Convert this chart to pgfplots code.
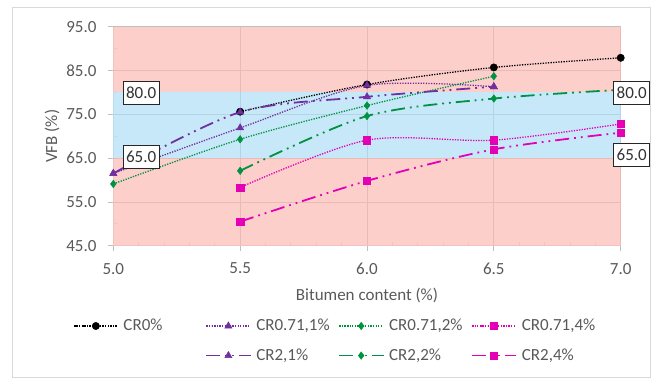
\documentclass[border=0pt]{standalone}
\usepackage{fontspec}
\setmainfont{Carlito}
\usepackage{pgfplots}
\pgfplotsset{compat=1.18}
\definecolor{pinkF}{RGB}{252,185,180}
\definecolor{blueF}{RGB}{174,222,245}
\definecolor{gridC}{RGB}{191,191,191}
\definecolor{txtC}{RGB}{89,89,89}
\definecolor{purp}{RGB}{112,48,160}
\definecolor{grn}{RGB}{0,145,65}
\definecolor{mag}{RGB}{228,0,180}
\definecolor{frameC}{RGB}{217,217,217}
\tikzset{
  dotS/.style={line width=1.3pt, dash pattern=on 1.3pt off 1.3pt},
  ddS/.style={line width=1.8pt, dash pattern=on 14pt off 5pt on 1.8pt off 5pt on 1.8pt off 5pt},
  lbl/.style={draw=black!85, fill=white, line width=0.8pt, inner xsep=3pt, inner ysep=0pt, minimum height=23pt, text=black!80, font=\fontsize{17}{20}\selectfont}
}
\begin{document}
\begin{tikzpicture}[font=\fontsize{17}{20}\selectfont]
\begin{axis}[
  at={(0,0)}, anchor=south west,
  scale only axis, width=507.4pt, height=219pt,
  xmin=5, xmax=7, ymin=45, ymax=95,
  xtick={5,5.5,6,6.5,7}, ytick={45,55,65,75,85,95},
  minor x tick num=4, minor y tick num=1,
  axis lines*=left,
  axis line style={draw=frameC, line width=0.8pt},
  tick align=outside,
  major tick length=5pt, minor tick length=4pt,
  major tick style={draw=gridC, line width=0.8pt},
  minor x tick style={draw=frameC, line width=0.8pt, yshift=4pt},
  minor y tick style={draw=frameC, line width=0.8pt, xshift=4pt},
  grid=major, major grid style={draw=gridC, line width=0.8pt},
  minor grid style={draw=none},
  clip=false,
  /pgf/number format/fixed, /pgf/number format/fixed zerofill,
  /pgf/number format/precision=1, /pgf/number format/assume math mode=true,
  ticklabel style={font=\fontsize{17}{20}\selectfont, text=txtC, inner sep=0pt},
  yticklabel style={anchor=east, xshift=-11.6pt},
  xticklabel style={anchor=north, yshift=-12.1pt},
  xlabel={Bitumen content (\%)}, ylabel={VFB (\%)},
  xlabel style={at={(axis description cs:0.5,-0.225)}, anchor=center, text=txtC},
  ylabel style={at={(axis description cs:-0.1208,0.5)}, anchor=center, text=txtC},
  legend columns=4,
  legend cell align=left,
  legend style={at={(axis description cs:0,0)}, anchor=north west, xshift=-40.3pt, yshift=-70.3pt,
    draw=none, fill=none, inner sep=0pt, row sep=10pt,
    nodes={inner sep=3pt, text depth=0.2em, text=txtC},
    font=\fontsize{17}{20}\selectfont},
  legend image code/.code={\draw[mark repeat=2,mark phase=2,#1] plot coordinates {(0pt,0pt) (22pt,0pt) (44pt,0pt)};},
]
\addplot[draw=none, fill=pinkF, fill opacity=0.69, forget plot] coordinates {(5,45)(7,45)(7,65)(5,65)} -- cycle;
\addplot[draw=none, fill=blueF, fill opacity=0.69, forget plot] coordinates {(5,65)(7,65)(7,80)(5,80)} -- cycle;
\addplot[draw=none, fill=pinkF, fill opacity=0.69, forget plot] coordinates {(5,80)(7,80)(7,95)(5,95)} -- cycle;

\addplot[black, dotS, smooth, mark=*, mark size=3.7pt, mark options={solid, line width=0.4pt}]
  coordinates {(5.5,75.6) (6.0,81.8) (6.5,85.7) (7.0,87.9)};
\addlegendentry{\hspace{2pt}\makebox[79pt][l]{CR0\%}}
\addplot[purp, dotS, smooth, mark=triangle*, mark size=4.2pt, mark options={solid, line width=0.4pt}]
  coordinates {(5.0,61.5) (5.5,71.9) (6.0,81.6) (6.5,81.3)};
\addlegendentry{\hspace{2pt}\makebox[79pt][l]{CR0.71,1\%}}
\addplot[grn, dotS, smooth, mark=diamond*, mark size=3.8pt, mark options={solid, line width=0.4pt}]
  coordinates {(5.0,59.1) (5.5,69.3) (6.0,77.0) (6.5,83.7)};
\addlegendentry{\hspace{2pt}\makebox[79pt][l]{CR0.71,2\%}}
\addplot[mag, dotS, smooth, mark=square*, mark size=3.6pt, mark options={solid, line width=0.4pt}]
  coordinates {(5.5,58.3) (6.0,69.1) (6.5,69.1) (7.0,72.8)};
\addlegendentry{\hspace{2pt}\makebox[79pt][l]{CR0.71,4\%}}
\addlegendimage{empty legend}
\addlegendentry{}
\addplot[purp, ddS, smooth, mark=triangle*, mark size=4.2pt, mark options={solid, line width=0.4pt}]
  coordinates {(5.0,61.5) (5.5,75.5) (6.0,79.0) (6.5,81.3)};
\addlegendentry{\hspace{2pt}\makebox[79pt][l]{CR2,1\%}}
\addplot[grn, ddS, smooth, mark=diamond*, mark size=3.8pt, mark options={solid, line width=0.4pt}]
  coordinates {(5.5,62.1) (6.0,74.6) (6.5,78.6) (7.0,80.6)};
\addlegendentry{\hspace{2pt}\makebox[79pt][l]{CR2,2\%}}
\addplot[mag, ddS, smooth, mark=square*, mark size=3.6pt, mark options={solid, line width=0.4pt}]
  coordinates {(5.5,50.5) (6.0,59.8) (6.5,67.0) (7.0,70.8)};
\addlegendentry{\hspace{2pt}\makebox[79pt][l]{CR2,4\%}}

\coordinate (L80) at (axis cs:5,80);
\coordinate (L65) at (axis cs:5,65);
\coordinate (R80) at (axis cs:7,80);
\coordinate (R65) at (axis cs:7,65);
\end{axis}
\node[lbl, anchor=west] at ([xshift=9.4pt]L80) {80.0};
\node[lbl, anchor=west] at ([xshift=9.4pt, yshift=1.3pt]L65) {65.0};
\node[lbl, anchor=west] at ([xshift=-7.4pt]R80) {80.0};
\node[lbl, anchor=west] at ([xshift=-7.4pt, yshift=2.8pt]R65) {65.0};
\draw[frameC, line width=1pt] (-100.3pt,-131.3pt) rectangle (536.7pt,237.7pt);
\pgfresetboundingbox
\path (-113.3pt,-132.3pt) rectangle (540.7pt,245.7pt);
\end{tikzpicture}
\end{document}
